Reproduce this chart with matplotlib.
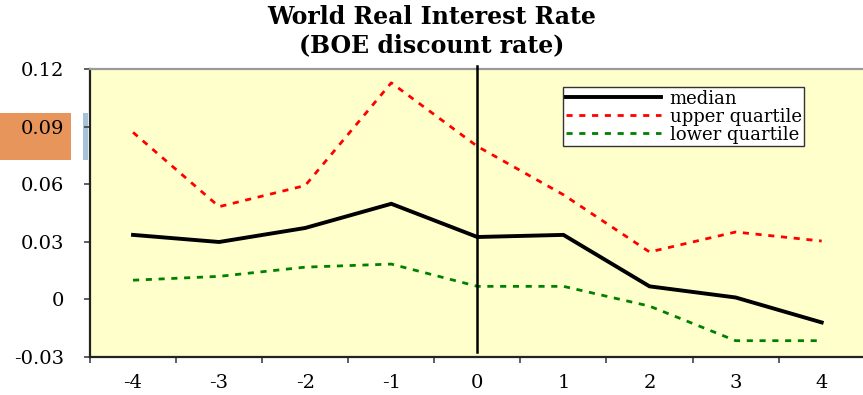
import matplotlib
matplotlib.use("Agg")
import matplotlib.pyplot as plt
from matplotlib.patches import Rectangle

# Years relative to the event (category axis)
periods = [-4, -3, -2, -1, 0, 1, 2, 3, 4]
period_labels = ["-4", "-3", "-2", "-1", "0", "1", "2", "3", "4"]

# World real interest rate (BOE discount rate)
median = [0.0336, 0.0299, 0.0372, 0.0498, 0.0325, 0.0336, 0.0068, 0.0010, -0.0120]
upper_quartile = [0.0870, 0.0483, 0.0593, 0.1128, 0.0797, 0.0545, 0.0247, 0.0351, 0.0304]
lower_quartile = [0.0100, 0.0120, 0.0168, 0.0184, 0.0068, 0.0068, -0.0035, -0.0215, -0.0215]

y_ticks = [-0.03, 0, 0.03, 0.06, 0.09, 0.12]
y_tick_labels = ["-0.03", "0", "0.03", "0.06", "0.09", "0.12"]

W, H = 863, 395
fig = plt.figure(figsize=(W / 100, H / 100), dpi=100)
fig.patch.set_facecolor("white")

serif = ["DejaVu Serif"]

ax = fig.add_axes([90 / W, 1 - 357 / H, (W - 90) / W + 0.002, (357 - 69) / H])
ax.set_facecolor("#FFFFCC")

ax.plot(periods, upper_quartile, color="#FF0000", lw=2.0, ls=(0, (2.2, 2.4)),
        label="upper quartile", zorder=3)
ax.plot(periods, lower_quartile, color="#008000", lw=2.0, ls=(0, (2.2, 2.4)),
        label="lower quartile", zorder=3)
ax.plot(periods, median, color="black", lw=2.8, solid_joinstyle="miter",
        label="median", zorder=4)

# event marker at period 0
ax.axvline(0, ymin=0.017, ymax=1.01, color="black", lw=1.8, clip_on=False, zorder=5)

ax.set_xlim(-4.5, 4.5)
ax.set_ylim(-0.03, 0.12)
ax.set_yticks(y_ticks)
ax.set_yticklabels(y_tick_labels, family=serif, fontsize=14)
ax.set_xticks([p + 0.5 for p in periods[:-1]] + [-4.5])
ax.set_xticklabels([])
ax.set_xticks(periods, minor=True)
ax.set_xticklabels(period_labels, minor=True, family=serif, fontsize=14)
ax.tick_params(axis="x", which="major", length=4.5, width=1.2, color="#444444", direction="out")
ax.tick_params(axis="x", which="minor", length=0, pad=12)
ax.tick_params(axis="y", length=4.5, width=1.2, color="#444444", direction="out", pad=14)

for side in ("left", "bottom"):
    ax.spines[side].set_color("#222222")
    ax.spines[side].set_linewidth(1.6)
ax.spines["top"].set_color("#999999")
ax.spines["top"].set_linewidth(1.6)
ax.spines["right"].set_visible(False)

handles, labels = ax.get_legend_handles_labels()
order = [2, 0, 1]
leg = ax.legend([handles[i] for i in order], [labels[i] for i in order],
                loc="upper left", bbox_to_anchor=((562 - 90) / (W - 90), 1 - (87 - 69) / 288),
                frameon=True, fancybox=False, framealpha=1, edgecolor="#333333",
                prop={"family": serif, "size": 13}, handlelength=5.3, handletextpad=0.45,
                labelspacing=0.0, borderpad=0.15, borderaxespad=0)
leg.get_frame().set_linewidth(1.0)

fig.text(0.5, 1 - 17 / H, "World Real Interest Rate", ha="center", va="center",
         family=serif, fontsize=17, fontweight="bold")
fig.text(0.5, 1 - 45 / H, "(BOE discount rate)", ha="center", va="center",
         family=serif, fontsize=17, fontweight="bold")

# highlight block behind the 0.09 label
fig.patches.append(Rectangle((0, 1 - 160 / H), 71 / W, 47 / H, transform=fig.transFigure,
                             facecolor="#E8955C", edgecolor="none", zorder=-1))
fig.patches.append(Rectangle((83 / W, 1 - 160 / H), 5 / W, 47 / H, transform=fig.transFigure,
                             facecolor="#A6C2D8", edgecolor="none", zorder=-1))

fig.savefig("out.png", dpi=100)
